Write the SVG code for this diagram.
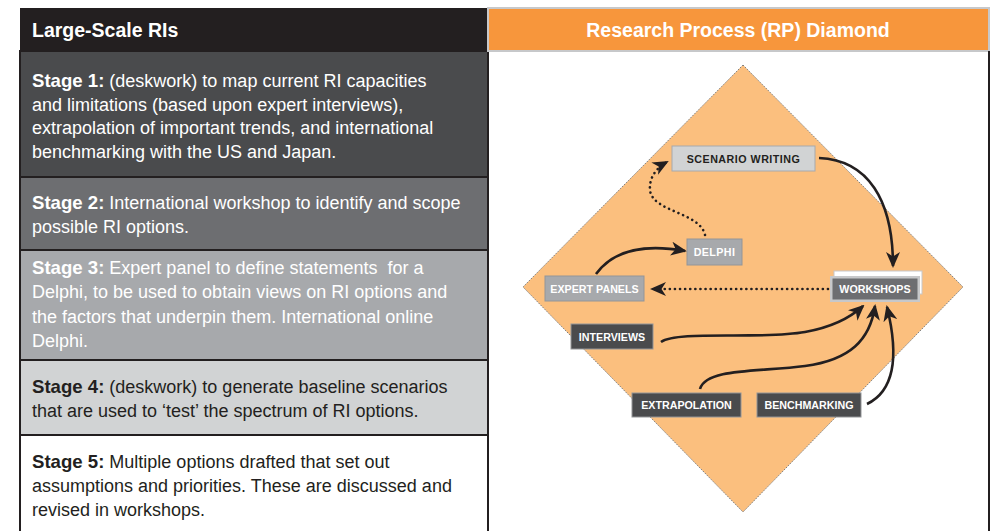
<svg xmlns="http://www.w3.org/2000/svg" width="993" height="531" viewBox="0 0 993 531">
<style>
.body{font-family:"Liberation Sans",Arial,sans-serif;font-size:18px}
.b{font-weight:bold;font-size:18.6px}
.h{font-weight:bold;font-size:19.5px}
.w{fill:#ffffff}
.k{fill:#231f20}
.stage{stroke:#231f20;stroke-width:2}
.nl{font-family:"Liberation Sans",Arial,sans-serif;font-weight:bold;font-size:10.7px;text-anchor:middle}
.conn{fill:none;stroke:#231f20;stroke-width:2.6}
.dot{fill:none;stroke:#231f20;stroke-width:2.6;stroke-dasharray:0.1 5;stroke-linecap:round}
</style>
<defs>
<marker id="ah" markerUnits="userSpaceOnUse" markerWidth="16" markerHeight="14" viewBox="0 0 16 14" refX="14" refY="7" orient="auto">
<path d="M0,0 L16,7 L0,14 L4.5,7 z" fill="#231f20"/>
</marker>
</defs>
<rect width="993" height="531" fill="#ffffff"/>

<!-- Left column -->
<g id="left-header">
<rect x="20" y="8" width="468" height="43" fill="#231f20"/>
<text x="32" y="37" class="body h w">Large-Scale RIs</text>
</g>
<g id="stage1">
<rect x="20" y="51" width="468" height="126" fill="#4a4b4d" class="stage"/>
<text class="body w"><tspan x="32" y="87"><tspan class="b">Stage 1:</tspan> (deskwork) to map current RI capacities</tspan><tspan x="32" y="110.5">and limitations (based upon expert interviews),</tspan><tspan x="32" y="134">extrapolation of important trends, and international</tspan><tspan x="32" y="157.5">benchmarking with the US and Japan.</tspan></text>
</g>
<g id="stage2">
<rect x="20" y="177" width="468" height="73" fill="#6d6e71" class="stage"/>
<text class="body w"><tspan x="32" y="209"><tspan class="b">Stage 2:</tspan> International workshop to identify and scope</tspan><tspan x="32" y="232.5">possible RI options.</tspan></text>
</g>
<g id="stage3">
<rect x="20" y="250" width="468" height="110" fill="#a7a9ac" class="stage"/>
<text class="body w" xml:space="preserve"><tspan x="32" y="274"><tspan class="b">Stage 3:</tspan> Expert panel to define statements  for a</tspan><tspan x="32" y="298">Delphi, to be used to obtain views on RI options and</tspan><tspan x="32" y="322.5">the factors that underpin them. International online</tspan><tspan x="32" y="347">Delphi.</tspan></text>
</g>
<g id="stage4">
<rect x="20" y="360" width="468" height="75" fill="#d1d3d4" class="stage"/>
<text class="body k"><tspan x="32" y="393"><tspan class="b">Stage 4:</tspan> (deskwork) to generate baseline scenarios</tspan><tspan x="32" y="417">that are used to ‘test’ the spectrum of RI options.</tspan></text>
</g>
<g id="stage5">
<path d="M20,531 V435 H488 V531" fill="#ffffff" class="stage"/>
<text class="body k"><tspan x="32" y="467.5"><tspan class="b">Stage 5:</tspan> Multiple options drafted that set out</tspan><tspan x="32" y="492">assumptions and priorities. These are discussed and</tspan><tspan x="32" y="516">revised in workshops.</tspan></text>
</g>

<!-- Right panel -->
<g id="right-header">
<rect x="488" y="8" width="501" height="43" fill="#f7963c" stroke="#c7c8ca" stroke-width="2"/>
<text x="738" y="37" class="body h w" text-anchor="middle">Research Process (RP) Diamond</text>
</g>
<line x1="989" y1="51" x2="989" y2="531" stroke="#231f20" stroke-width="2"/>

<g id="diamond">
<polygon points="743,65 963,287 743,512 523,287" fill="#fbbf7e" stroke="#7f7f7f" stroke-width="1" stroke-dasharray="1.5 1.2"/>
</g>

<g id="connectors">
<path class="conn" d="M819,158 C868,160 893,200 893,266" marker-end="url(#ah)"/>
<path class="dot" d="M705,235 C700,212 652,212 650,190 C649,178 656,168 667,162" marker-end="url(#ah)"/>
<path class="conn" d="M596,274 C612,252 640,243 685,251" marker-end="url(#ah)"/>
<path class="dot" d="M828,289 H652" marker-end="url(#ah)"/>
<path class="conn" d="M661,342 C678,330 760,340 805,332 C833,327 850,318 863,306" marker-end="url(#ah)"/>
<path class="conn" d="M700,389 C706,368 760,372 805,366 C850,360 870,340 875,306" marker-end="url(#ah)"/>
<path class="conn" d="M867,404 C892,392 900,360 887,307" marker-end="url(#ah)"/>
</g>

<g id="scenario-writing">
<rect x="672" y="146" width="143" height="25" fill="#d1d3d4" stroke="#a7a9ac" stroke-width="1"/>
<text x="743.5" y="162.5" class="nl k" style="letter-spacing:0.5px">SCENARIO WRITING</text>
</g>
<g id="delphi">
<rect x="687" y="239" width="55" height="26" fill="#a7a9ac" stroke="#939598" stroke-width="1"/>
<text x="714.5" y="256" class="nl w" style="letter-spacing:0.4px">DELPHI</text>
</g>
<g id="expert-panels">
<rect x="545" y="276" width="99" height="25" fill="#a7a9ac" stroke="#939598" stroke-width="1"/>
<text x="594.5" y="292.5" class="nl w">EXPERT PANELS</text>
</g>
<g id="workshops">
<rect x="834" y="271" width="88" height="23" fill="#ffffff" stroke="#c7c8ca" stroke-width="1"/>
<rect x="830" y="276" width="90" height="26" fill="#c7c8ca"/>
<rect x="832.5" y="278.5" width="85" height="21" fill="#6d6e71"/>
<text x="875" y="293" class="nl w">WORKSHOPS</text>
</g>
<g id="interviews">
<rect x="571" y="324" width="82" height="25" fill="#4a4b4d" stroke="#939598" stroke-width="1"/>
<text x="612" y="340.5" class="nl w">INTERVIEWS</text>
</g>
<g id="extrapolation">
<rect x="632" y="393" width="109" height="24" fill="#4a4b4d" stroke="#939598" stroke-width="1"/>
<text x="686.5" y="409" class="nl w">EXTRAPOLATION</text>
</g>
<g id="benchmarking">
<rect x="757" y="393" width="104" height="24" fill="#4a4b4d" stroke="#939598" stroke-width="1"/>
<text x="809" y="409" class="nl w">BENCHMARKING</text>
</g>
</svg>
